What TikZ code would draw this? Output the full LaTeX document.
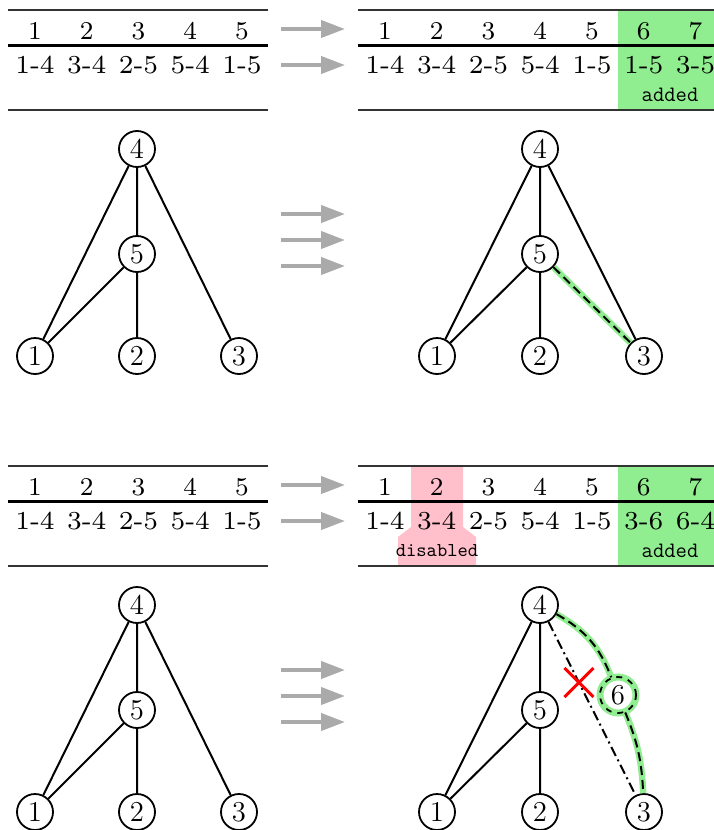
\documentclass[tikz,border=0pt]{standalone}
\usetikzlibrary{arrows.meta,shapes.misc}

\definecolor{addgreen}{RGB}{144,238,144}
\definecolor{droppink}{RGB}{255,192,203}
\definecolor{arrowgray}{RGB}{170,170,170}

\tikzset{
  vertex/.style={circle, draw, line width=0.9pt, minimum size=18pt, inner sep=0pt, font=\Large},
  newvertex/.style={vertex, dashed, preaction={draw=addgreen, line width=3.5pt, solid}},
  edge/.style={line width=1pt},
  newedge/.style={line width=1pt, dash pattern=on 4.5pt off 2.5pt, preaction={draw=addgreen, line width=3.2pt, solid}},
  oldedge/.style={line width=1pt, dash pattern=on 5pt off 2pt on 1pt off 2pt},
  headcell/.style={font=\footnotesize, scale=1.6},
  rowcell/.style={font=\scriptsize, scale=1.85},
  note/.style={font=\ttfamily\fontsize{11}{13}\selectfont},
  smallnote/.style={font=\ttfamily\fontsize{9.8}{11}\selectfont},
  rulethin/.style={line width=0.7pt, black!80},
  rulethick/.style={line width=1.5pt},
  bigarrow/.style={draw=arrowgray, line width=2pt, -{Triangle[length=12pt,width=8.5pt]}},
  cut/.style={cross out, draw=red, solid, line width=1.5pt, minimum size=13pt, inner sep=0pt}
}

\begin{document}
\begin{tikzpicture}[x=0.5pt, y=-0.5pt]
\useasboundingbox (0,0) rectangle (713,830);

% Highlighted columns
\fill[addgreen] (618,10) rectangle (722,110);
\fill[addgreen] (618,466) rectangle (722,566);
\fill[droppink] (411,466) -- (463,466) -- (463,527) -- (476,537) -- (476,566)
  -- (398,566) -- (398,537) -- (411,527) -- cycle;

% Table rules
\foreach \y in {0,456} {
  \draw[rulethin] (8,10+\y) -- (268,10+\y);
  \draw[rulethick] (8,45+\y) -- (268,45+\y);
  \draw[rulethin] (8,110+\y) -- (268,110+\y);
  \draw[rulethin] (358,10+\y) -- (722,10+\y);
  \draw[rulethick] (358,45+\y) -- (722,45+\y);
  \draw[rulethin] (358,110+\y) -- (722,110+\y);
}

% Edge lists
\foreach \e [count=\i] in {1-4,3-4,2-5,5-4,1-5} {
  \node[headcell] (tl-h\i) at ({35+51.75*(\i-1)},31) {\i};
  \node[rowcell] (tl-r\i) at ({35+51.75*(\i-1)},65) {\e};
  \node[headcell] (bl-h\i) at ({35+51.75*(\i-1)},487) {\i};
  \node[rowcell] (bl-r\i) at ({35+51.75*(\i-1)},521) {\e};
}
\foreach \e [count=\i] in {1-4,3-4,2-5,5-4,1-5,1-5,3-5} {
  \node[headcell] (tr-h\i) at ({385+51.75*(\i-1)},31) {\i};
  \node[rowcell] (tr-r\i) at ({385+51.75*(\i-1)},65) {\e};
}
\foreach \e [count=\i] in {1-4,3-4,2-5,5-4,1-5,3-6,6-4} {
  \node[headcell] (br-h\i) at ({385+51.75*(\i-1)},487) {\i};
  \node[rowcell] (br-r\i) at ({385+51.75*(\i-1)},521) {\e};
}
\node[note] (tr-add) at (670,95) {added};
\node[note] (br-add) at (670,551) {added};
\node[smallnote] (br-dis) at (437,551) {disabled};

% Arrows
\foreach \y [count=\i] in {29,65,214,240,266,485,521,670,696,722} {
  \coordinate (as\i) at (281,\y);
  \coordinate (ae\i) at (345,\y);
  \draw[bigarrow] (as\i) -- (ae\i);
}

% Graph, top left
\node[vertex] (a4) at (137,149) {4};
\node[vertex] (a5) at (137,254) {5};
\node[vertex] (a1) at (35,356) {1};
\node[vertex] (a2) at (137,356) {2};
\node[vertex] (a3) at (239,356) {3};
\draw[edge] (a4) -- (a1) (a4) -- (a5) (a4) -- (a3) (a5) -- (a1) (a5) -- (a2);

% Graph, top right
\node[vertex] (b4) at (540,149) {4};
\node[vertex] (b5) at (540,254) {5};
\node[vertex] (b1) at (437,356) {1};
\node[vertex] (b2) at (540,356) {2};
\node[vertex] (b3) at (644,356) {3};
\draw[edge] (b4) -- (b1) (b4) -- (b5) (b4) -- (b3) (b5) -- (b1) (b5) -- (b2);
\draw[newedge] (b5) -- (b3);

% Graph, bottom left
\node[vertex] (c4) at (137,605) {4};
\node[vertex] (c5) at (137,710) {5};
\node[vertex] (c1) at (35,812) {1};
\node[vertex] (c2) at (137,812) {2};
\node[vertex] (c3) at (239,812) {3};
\draw[edge] (c4) -- (c1) (c4) -- (c5) (c4) -- (c3) (c5) -- (c1) (c5) -- (c2);

% Graph, bottom right
\node[vertex] (d4) at (540,605) {4};
\node[vertex] (d5) at (540,710) {5};
\node[vertex] (d1) at (437,812) {1};
\node[vertex] (d2) at (540,812) {2};
\node[vertex] (d3) at (644,812) {3};
\node[newvertex] (d6) at (618,695) {6};
\draw[edge] (d4) -- (d1) (d4) -- (d5) (d5) -- (d1) (d5) -- (d2);
\draw[oldedge] (d4) -- node[cut, pos=0.35] (x43) {} (d3);
\draw[newedge] (d4) to[bend left=20] (d6);
\draw[newedge] (d6) to[bend left=10] (d3);

\end{tikzpicture}
\end{document}
